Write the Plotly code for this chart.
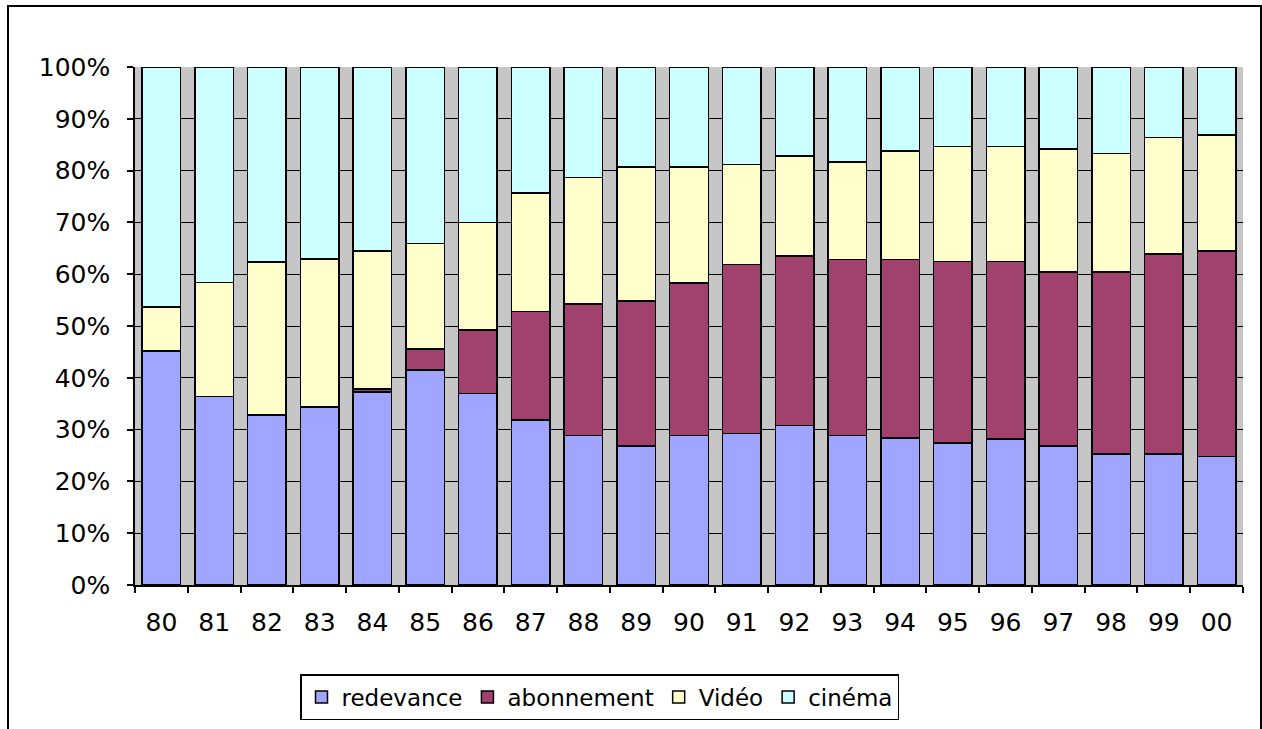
import plotly.graph_objects as go

# Broadcasting revenue shares by year (percent of total)
years = ["80", "81", "82", "83", "84", "85", "86", "87", "88", "89", "90",
         "91", "92", "93", "94", "95", "96", "97", "98", "99", "00"]
redevance = [45.2, 36.4, 32.8, 34.4, 37.3, 41.5, 37.0, 31.9, 28.9, 26.8, 28.9,
             29.2, 30.8, 28.9, 28.4, 27.4, 28.2, 26.8, 25.3, 25.3, 24.8]
abonnement = [0.0, 0.0, 0.0, 0.0, 0.5, 4.1, 12.2, 20.9, 25.3, 28.0, 29.4,
              32.7, 32.7, 33.9, 34.4, 35.1, 34.3, 33.6, 35.1, 38.6, 39.7]
video = [8.5, 22.0, 29.6, 28.5, 26.7, 20.3, 20.8, 22.9, 24.5, 25.9, 22.4,
         19.3, 19.3, 18.9, 21.0, 22.2, 22.2, 23.8, 22.9, 22.5, 22.4]
cinema = [46.3, 41.6, 37.6, 37.1, 35.5, 34.1, 30.0, 24.3, 21.3, 19.3, 19.3,
          18.8, 17.2, 18.3, 16.2, 15.3, 15.3, 15.8, 16.7, 13.6, 13.1]

series = [
    ("redevance", redevance, "#A0A5FF"),
    ("abonnement", abonnement, "#A0416E"),
    ("Vidéo", video, "#FFFFCC"),
    ("cinéma", cinema, "#CCFFFF"),
]

W, H = 1262, 729
L, R, T, B = 135, 19, 67, 144
pw, ph = W - L - R, H - T - B

fig = go.Figure()
for name, vals, col in series:
    fig.add_trace(go.Bar(
        x=years, y=vals, name=name,
        marker=dict(color=col, line=dict(color="black", width=1.5)),
    ))

font = dict(family="DejaVu Sans", size=24, color="black")

fig.update_layout(
    width=W, height=H,
    margin=dict(l=L, r=R, t=T, b=B, autoexpand=False),
    barmode="stack", barnorm="percent", bargap=0.27,
    paper_bgcolor="white", plot_bgcolor="#C6C6C6",
    font=font,
    showlegend=True,
    legend=dict(
        orientation="h",
        x=(599.5 - L) / pw, y=(T + ph - 697) / ph,
        xanchor="center", yanchor="middle",
        bordercolor="black", borderwidth=1.5, bgcolor="white",
        font=dict(family="DejaVu Sans", size=23, color="black"),
        traceorder="normal", itemwidth=30,
    ),
    xaxis=dict(
        type="category", tickson="boundaries",
        ticks="outside", ticklen=6, tickcolor="black", tickwidth=1.5,
        showline=True, linecolor="black", linewidth=1.5,
        showgrid=False, ticklabelstandoff=14,
        tickfont=dict(family="DejaVu Sans", size=25, color="black"),
    ),
    yaxis=dict(
        range=[0, 100], dtick=10, ticksuffix="%",
        ticks="outside", ticklen=6, tickcolor="black", tickwidth=1.5,
        showline=True, linecolor="black", linewidth=1.5,
        showgrid=True, gridcolor="black", gridwidth=1.2,
        zeroline=False, ticklabelstandoff=12,
        tickfont=dict(family="DejaVu Sans", size=25, color="black"),
    ),
)

# outer chart frame
fig.add_shape(
    type="rect", xref="paper", yref="paper",
    x0=(8 - L) / pw, x1=(1261 - L) / pw,
    y0=(T + ph - 745) / ph, y1=(T + ph - 6) / ph,
    line=dict(color="black", width=2), fillcolor="rgba(0,0,0,0)",
    layer="above",
)

fig.write_html("out.html")
